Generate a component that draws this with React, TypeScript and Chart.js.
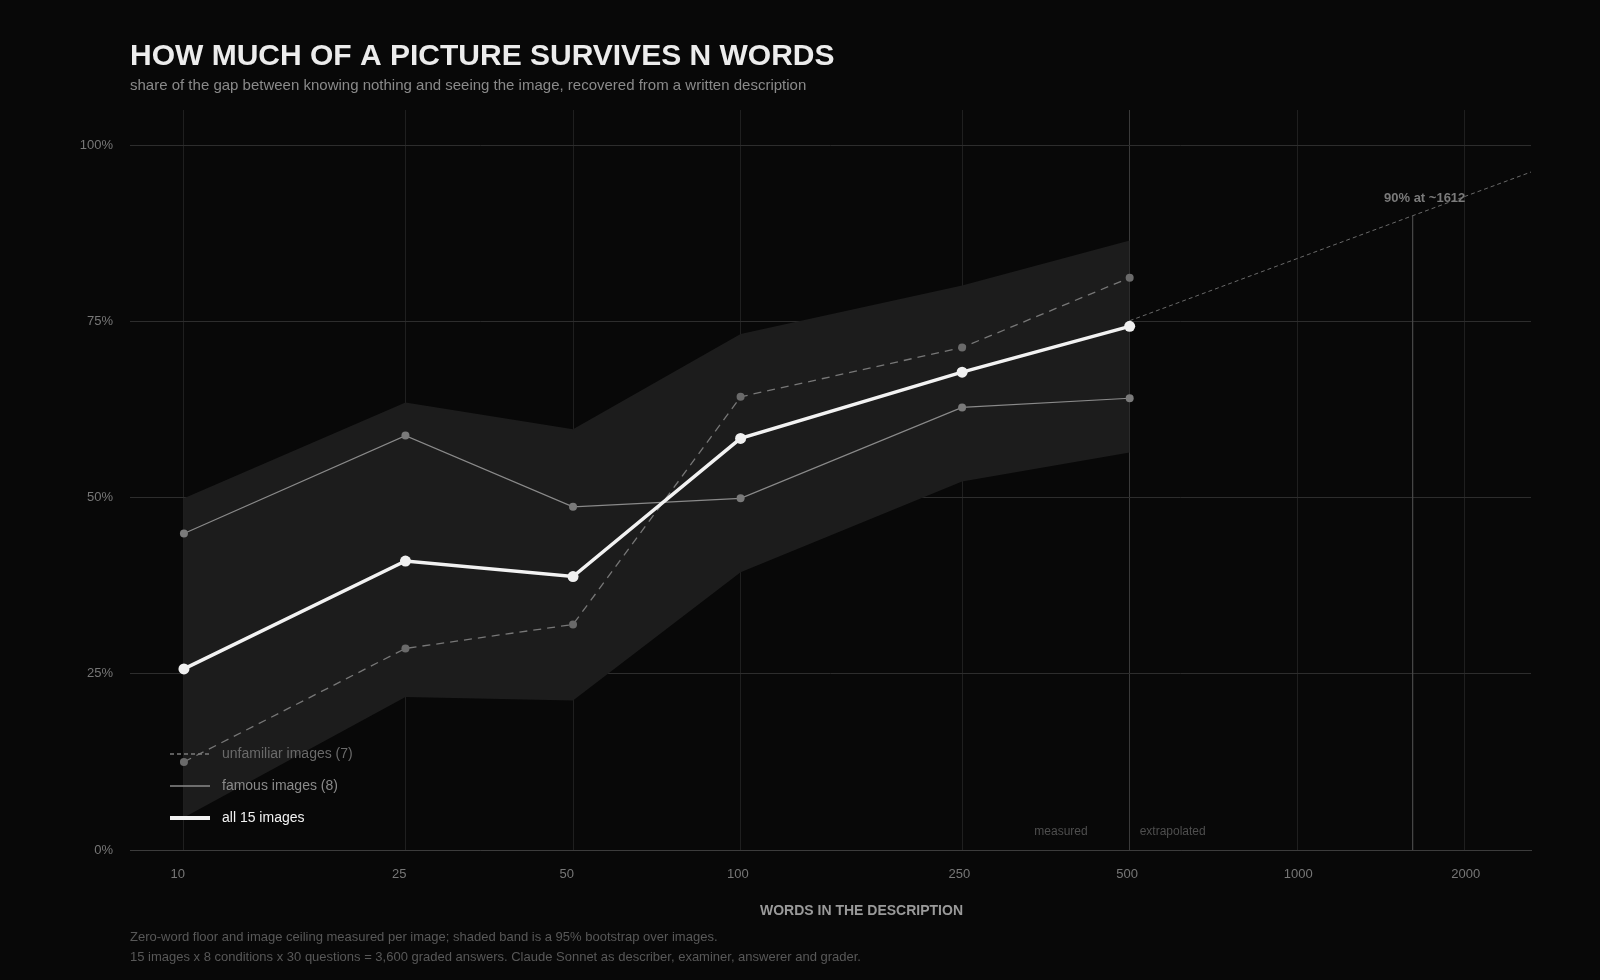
import { useEffect, useRef } from "react";
import { Chart, registerables } from "chart.js";

Chart.register(...registerables);

// --- data ---
const WORDS = [10, 25, 50, 100, 250, 500];
const ALL_IMAGES = [25.7, 41.0, 38.8, 58.4, 67.8, 74.3];
const FAMOUS = [44.9, 58.8, 48.7, 49.9, 62.8, 64.1];
const UNFAMILIAR = [12.5, 28.6, 32.0, 64.3, 71.3, 81.2];
const BAND_HIGH = [49.9, 63.5, 59.7, 73.2, 80.1, 86.5];
const BAND_LOW = [4.6, 21.7, 21.2, 39.4, 52.3, 56.4];

// log-linear extrapolation past the last measured point
const EXTRAP_WORDS = [500, 1612, 2630];
const EXTRAP_VALUES = [75.1, 90.0, 96.2];
const TARGET_WORDS = 1612;
const TARGET_SHARE = 90;

const X_TICKS = [10, 25, 50, 100, 250, 500, 1000, 2000];
const Y_TICKS = [0, 25, 50, 75, 100];
const X_MIN = 8;
const X_MAX = 2630;
const Y_MAX = 105;
const SPLIT_WORDS = 500;

const TITLE = "HOW MUCH OF A PICTURE SURVIVES N WORDS";
const SUBTITLE =
  "share of the gap between knowing nothing and seeing the image, recovered from a written description";
const X_TITLE = "WORDS IN THE DESCRIPTION";
const FOOTNOTES = [
  "Zero-word floor and image ceiling measured per image; shaded band is a 95% bootstrap over images.",
  "15 images x 8 conditions x 30 questions = 3,600 graded answers. Claude Sonnet as describer, examiner, answerer and grader.",
];

const FONT = "'Liberation Sans', Arial, Helvetica, sans-serif";
const BG = "#080808";

const toPoints = (xs: number[], ys: number[]) =>
  xs.map((x, i) => ({ x, y: ys[i] }));

// legend, side notes, axis title and footnotes drawn on top
const notesPlugin = {
  id: "notes",
  afterDatasetsDraw(chart: any) {
    const { ctx, chartArea: area, scales } = chart;
    const xs = scales.x;
    const ys = scales.y;
    ctx.save();

    // legend, bottom-left inside the plot
    const lx = area.left + 40;
    const rows = [
      { label: "unfamiliar images (7)", line: "#7a7a7a", text: "#6a6a6a", w: 1.5, dash: [4, 3], dy: 96 },
      { label: "famous images (8)", line: "#8a8a8a", text: "#8a8a8a", w: 1.5, dash: [], dy: 64 },
      { label: "all 15 images", line: "#f2f2f2", text: "#f2f2f2", w: 4, dash: [], dy: 32 },
    ];
    ctx.font = `14px ${FONT}`;
    ctx.textBaseline = "middle";
    ctx.textAlign = "left";
    rows.forEach((r) => {
      const ry = area.bottom - r.dy;
      ctx.beginPath();
      ctx.setLineDash(r.dash);
      ctx.strokeStyle = r.line;
      ctx.lineWidth = r.w;
      ctx.moveTo(lx, ry);
      ctx.lineTo(lx + 40, ry);
      ctx.stroke();
      ctx.setLineDash([]);
      ctx.fillStyle = r.text;
      ctx.fillText(r.label, lx + 52, ry);
    });

    // measured | extrapolated
    const sx = xs.getPixelForValue(SPLIT_WORDS);
    ctx.font = `12px ${FONT}`;
    ctx.fillStyle = "#4e4e4e";
    ctx.textAlign = "right";
    ctx.fillText("measured", sx - 42, area.bottom - 18);
    ctx.textAlign = "left";
    ctx.fillText("extrapolated", sx + 10, area.bottom - 18);

    // 90% marker label
    ctx.font = `bold 13px ${FONT}`;
    ctx.fillStyle = "#7a7a7a";
    ctx.textAlign = "center";
    ctx.fillText(
      `${TARGET_SHARE}% at ~${TARGET_WORDS}`,
      xs.getPixelForValue(TARGET_WORDS) + 12,
      ys.getPixelForValue(TARGET_SHARE) - 17
    );

    // x-axis title
    ctx.font = `bold 14px ${FONT}`;
    ctx.fillStyle = "#9a9a9a";
    ctx.fillText(X_TITLE, (area.left + area.right) / 2 + 31, area.bottom + 61);

    // footnotes
    ctx.font = `13px ${FONT}`;
    ctx.fillStyle = "#585858";
    ctx.textAlign = "left";
    FOOTNOTES.forEach((t, i) => {
      ctx.fillText(t, area.left, area.bottom + 87 + i * 20.5);
    });

    ctx.restore();
  },
};

export default function App() {
  const canvasRef = useRef<HTMLCanvasElement | null>(null);

  useEffect(() => {
    const canvas = canvasRef.current;
    if (!canvas) return;
    document.body.style.margin = "0";
    document.body.style.background = BG;

    Chart.defaults.font.family = FONT;

    const chart = new Chart(canvas, {
      type: "line",
      data: {
        datasets: [
          {
            label: "all 15 images",
            data: toPoints(WORDS, ALL_IMAGES),
            borderColor: "#f2f2f2",
            borderWidth: 3.5,
            pointRadius: 5.5,
            pointBackgroundColor: "#f0f0f0",
            pointBorderWidth: 0,
            tension: 0,
          },
          {
            label: "famous images (8)",
            data: toPoints(WORDS, FAMOUS),
            borderColor: "#8a8a8a",
            borderWidth: 1.2,
            pointRadius: 4,
            pointBackgroundColor: "#7a7a7a",
            pointBorderWidth: 0,
            tension: 0,
          },
          {
            label: "unfamiliar images (7)",
            data: toPoints(WORDS, UNFAMILIAR),
            borderColor: "#777777",
            borderWidth: 1.3,
            borderDash: [8, 6],
            pointRadius: 4,
            pointBackgroundColor: "#6a6a6a",
            pointBorderWidth: 0,
            tension: 0,
          },
          {
            label: "extrapolation",
            data: toPoints(EXTRAP_WORDS, EXTRAP_VALUES),
            borderColor: "#6a6a6a",
            borderWidth: 1,
            borderDash: [4, 3],
            pointRadius: 0,
            tension: 0,
          },
          {
            label: "target",
            data: [
              { x: TARGET_WORDS, y: 0 },
              { x: TARGET_WORDS, y: TARGET_SHARE },
            ],
            borderColor: "#4a4a4a",
            borderWidth: 1.2,
            pointRadius: 0,
          },
          {
            label: "band high",
            data: toPoints(WORDS, BAND_HIGH),
            borderWidth: 0,
            borderColor: "rgba(0,0,0,0)",
            backgroundColor: "#1c1c1c",
            pointRadius: 0,
            fill: "+1",
            tension: 0,
          },
          {
            label: "band low",
            data: toPoints(WORDS, BAND_LOW),
            borderWidth: 0,
            borderColor: "rgba(0,0,0,0)",
            pointRadius: 0,
            fill: false,
            tension: 0,
          },
        ],
      },
      options: {
        responsive: false,
        animation: false,
        events: [],
        layout: { padding: { left: 0, right: 69, top: 0, bottom: 0 } },
        plugins: {
          legend: { display: false },
          tooltip: { enabled: false },
          title: {
            display: true,
            text: TITLE,
            align: "start",
            fullSize: false,
            color: "#ececec",
            font: { size: 30, weight: "bold", family: FONT },
            padding: { top: 38.5, bottom: 0 },
          },
          subtitle: {
            display: true,
            text: SUBTITLE,
            align: "start",
            fullSize: false,
            color: "#8a8a8a",
            font: { size: 15, family: FONT },
            padding: { top: 2.7, bottom: 14.8 },
          },
        },
        scales: {
          x: {
            type: "logarithmic",
            min: X_MIN,
            max: X_MAX,
            afterBuildTicks: (s: any) => {
              s.ticks = X_TICKS.map((value) => ({ value }));
            },
            afterFit: (s: any) => {
              s.height = 130;
            },
            ticks: {
              autoSkip: false,
              maxRotation: 0,
              align: "start",
              labelOffset: -13.5,
              padding: 17,
              color: "#777777",
              font: { size: 13 },
              callback: (v: any) => String(v),
            },
            grid: {
              drawTicks: false,
              color: (c: any) =>
                c.tick && c.tick.value === SPLIT_WORDS ? "#3a3a3a" : "#1f1f1f",
            },
            border: { color: "#3c3c3c" },
          },
          y: {
            min: 0,
            max: Y_MAX,
            afterBuildTicks: (s: any) => {
              s.ticks = Y_TICKS.map((value) => ({ value }));
            },
            afterFit: (s: any) => {
              s.width = 130;
            },
            ticks: {
              padding: 17,
              color: "#777777",
              font: { size: 13 },
              callback: (v: any) => `${v}%`,
            },
            grid: { drawTicks: false, color: "#2d2d2d" },
            border: { display: false },
          },
        },
      },
      plugins: [notesPlugin],
    });

    return () => {
      chart.destroy();
    };
  }, []);

  return (
    <div style={{ position: "fixed", inset: 0, background: BG }}>
      <canvas
        ref={canvasRef}
        width={1600}
        height={980}
        style={{ display: "block", width: 1600, height: 980 }}
      ></canvas>
    </div>
  );
}
